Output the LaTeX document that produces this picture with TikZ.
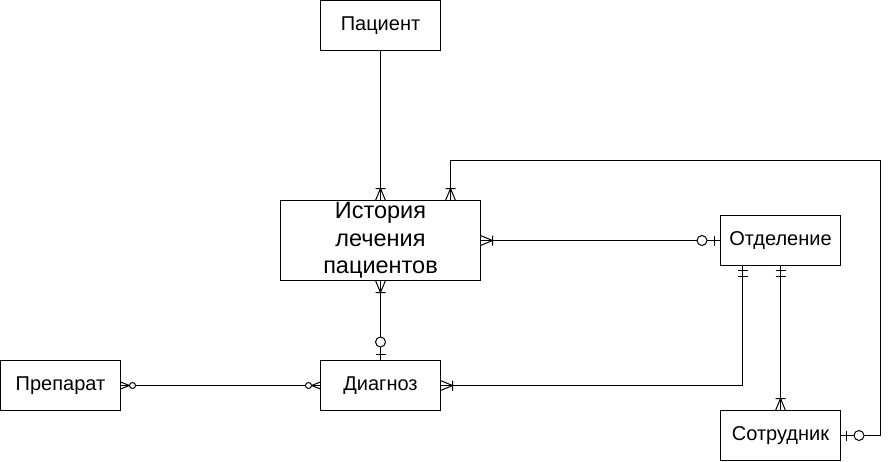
\documentclass[tikz,border=0pt]{standalone}
\usepackage{fontspec}
\setmainfont{Liberation Sans}
\usetikzlibrary{calc}
\tikzset{
  ent/.style={draw, line width=1pt, rectangle, inner sep=0pt, outer sep=0pt,
    minimum width=120pt, minimum height=50pt, font=\fontsize{20}{24}\selectfont},
  conn/.style={line width=1pt},
  onemany/.pic={\draw[line width=1pt] (0,5)--(12,0)--(0,-5) (12,5)--(12,-5);},
  zeroone/.pic={\draw[line width=1pt] (6,5)--(6,-5); \draw[line width=1pt, fill=white] (18.5,0) circle[radius=5];},
  mandone/.pic={\draw[line width=1pt] (5,5)--(5,-5) (11,5)--(11,-5);},
  zeromany/.pic={\draw[line width=1pt] (0,3.5)--(9,0)--(0,-3.5); \draw[line width=1pt, fill=white] (12,0) circle[radius=3];},
}
\begin{document}
\begin{tikzpicture}[x=1pt, y=-1pt]
\useasboundingbox (0,0) rectangle (894,461);
\node[ent] (pac) at (380.5,25.5) {Пациент};
\node[ent, minimum width=200pt, minimum height=80pt, align=center,
  font=\fontsize{23.5}{27.5}\selectfont] (hist) at (380.5,240.5) {История\\лечения\\пациентов};
\node[ent] (otd) at (780.5,240.5) {Отделение};
\node[ent] (prep) at (60.5,385.5) {Препарат};
\node[ent] (diag) at (380.5,385.5) {Диагноз};
\node[ent] (sotr) at (780.5,435.5) {Сотрудник};

\coordinate (h2) at ($(hist.north west)+(170,0)$);
\coordinate (c1) at (880.5,160.5);
\coordinate (o1) at ($(otd.south west)+(22,0)$);

\draw[conn] (pac.south) -- (hist.north);
\draw[conn] (h2) |- (c1) |- (sotr.east);
\draw[conn] (hist.east) -- (otd.west);
\draw[conn] (hist.south) -- (diag.north);
\draw[conn] (prep.east) -- (diag.west);
\draw[conn] (o1) |- (diag.east);
\draw[conn] (otd.south) -- (sotr.north);

\pic[rotate=90] at (hist.north) {onemany};
\pic[rotate=90] at (h2) {onemany};
\pic at (sotr.east) {zeroone};
\pic at (hist.east) {onemany};
\pic[rotate=180] at (otd.west) {zeroone};
\pic[rotate=-90] at (hist.south) {onemany};
\pic[rotate=90] at (diag.north) {zeroone};
\pic at (prep.east) {zeromany};
\pic[rotate=180] at (diag.west) {zeromany};
\pic[rotate=-90] at (o1) {mandone};
\pic at (diag.east) {onemany};
\pic[rotate=-90] at (otd.south) {mandone};
\pic[rotate=90] at (sotr.north) {onemany};
\end{tikzpicture}
\end{document}
